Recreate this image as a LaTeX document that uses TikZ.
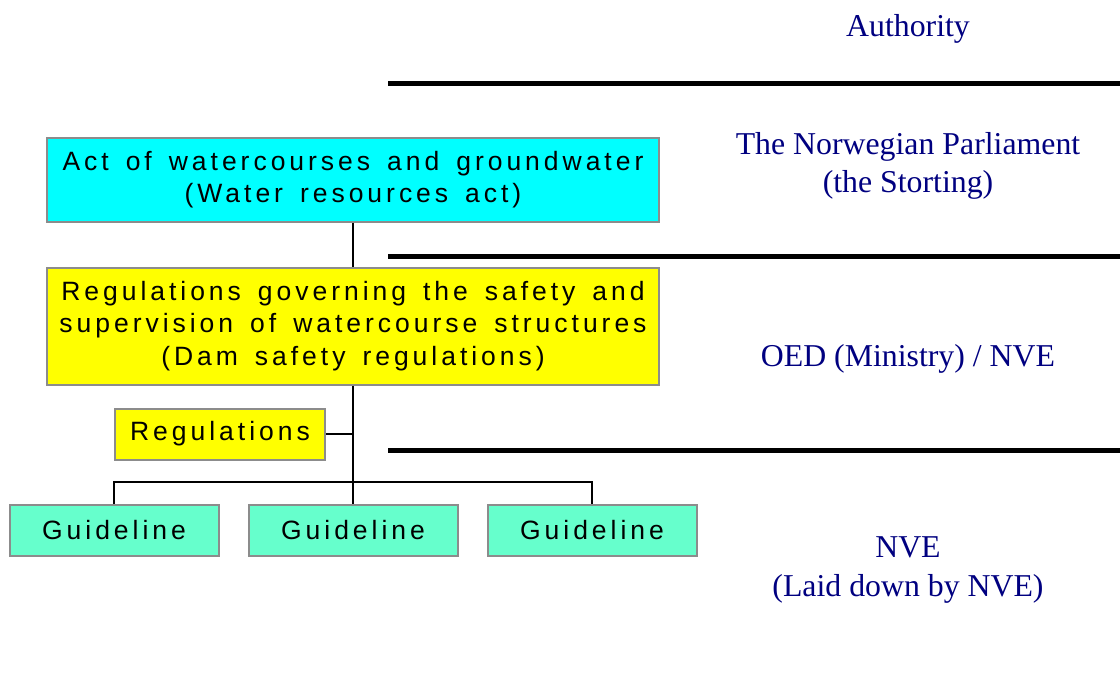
\documentclass[tikz,border=0pt]{standalone}
\usepackage{fontspec}
\setmainfont{Liberation Serif}
\newfontfamily\boxfont[LetterSpace=15,WordSpace=1.5]{Liberation Sans}
\definecolor{boxcyan}{HTML}{00FFFF}
\definecolor{boxyellow}{HTML}{FFFF00}
\definecolor{boxgreen}{HTML}{66FFCC}
\definecolor{boxedge}{HTML}{8C8C8C}
\definecolor{authblue}{HTML}{000080}
\tikzset{
  sbox/.style={draw=boxedge, line width=2pt, inner sep=0pt, align=center,
    font=\boxfont\fontsize{26.5}{32.5}\selectfont, text=black},
  guide/.style={sbox, fill=boxgreen, minimum width=209pt, minimum height=51pt},
  conn/.style={draw=black, line width=2pt},
  level/.style={draw=black, line width=5pt},
  auth/.style={align=center, text=authblue, font=\fontsize{31.8}{38.5}\selectfont, inner sep=0pt}
}
\begin{document}
\begin{tikzpicture}[x=1pt,y=-1pt]
\useasboundingbox (0,0) rectangle (1120,675);
% level lines
\coordinate (l1a) at (388,83);  \coordinate (l1b) at (1120,83);
\coordinate (l2a) at (388,256); \coordinate (l2b) at (1120,256);
\coordinate (l3a) at (388,450); \coordinate (l3b) at (1120,450);
\draw[level] (l1a) -- (l1b);
\draw[level] (l2a) -- (l2b);
\draw[level] (l3a) -- (l3b);
% boxes
\node[sbox, fill=boxcyan, minimum width=612pt, minimum height=84pt] (act) at (353,179.5)
  {Act of watercourses and groundwater\\(Water resources act)};
\node[sbox, fill=boxyellow, minimum width=612pt, minimum height=117pt] (dam) at (353,326)
  {Regulations governing the safety and\\supervision of watercourse structures\\(Dam safety regulations)};
\node[sbox, fill=boxyellow, minimum width=210pt, minimum height=51pt] (regs) at (220,434)
  {Regulations};
\node[guide] (g1) at (114,530.5) {Guideline};
\node[guide] (g2) at (353,530.5) {Guideline};
\node[guide] (g3) at (592,530.5) {Guideline};
% connectors
\coordinate (bus) at (353,482);
\draw[conn] (act.south) -- (dam.north);
\draw[conn] (dam.south) -- (g2.north);
\draw[conn] (regs.east) -- (regs.east -| dam.south);
\draw[conn] (g1.north) |- (bus) -| (g3.north);
% authority labels
\node[auth] (authority) at (908,29) {Authority};
\node[auth] (storting) at (908,166) {The Norwegian Parliament\\(the Storting)};
\node[auth] (oed) at (908,359) {OED (Ministry) / NVE};
\node[auth] (nve) at (908,570) {NVE\\(Laid down by NVE)};
\end{tikzpicture}
\end{document}
